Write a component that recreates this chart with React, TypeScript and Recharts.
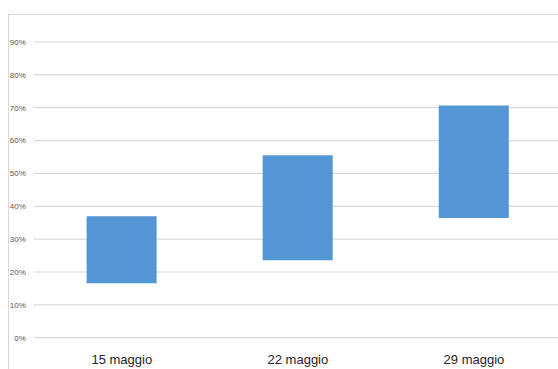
import React from "react";
import { BarChart, Bar, XAxis, YAxis, CartesianGrid } from "recharts";

const categories = ["15 maggio", "22 maggio", "29 maggio"];
const lowValues = [0.166, 0.236, 0.364];
const highValues = [0.37, 0.555, 0.707];
const yTicks = [0, 0.1, 0.2, 0.3, 0.4, 0.5, 0.6, 0.7, 0.8, 0.9];

const data = categories.map((name, i) => ({
  name,
  range: [lowValues[i], highValues[i]],
}));

const font = '"Liberation Sans", Arial, sans-serif';

export default function App() {
  return (
    <div style={{ position: "absolute", left: 8, top: 8, width: 550, height: 361, overflow: "hidden" }}>
      <style>{`html, body { overflow: hidden; }`}</style>
      <div
        style={{
          position: "absolute",
          left: 0,
          top: 6,
          width: 570,
          height: 400,
          border: "1px solid #d9d9d9",
          boxSizing: "border-box",
        }}
      >
        <div style={{ position: "absolute", left: 0, top: 0 }}>
          <BarChart
            width={553}
            height={370}
            data={data}
            margin={{ top: 27, right: 0, bottom: 17.3, left: 0 }}
            barCategoryGap="30%"
          >
            <CartesianGrid vertical={false} stroke="#d9d9d9" strokeWidth={1.2} />
            <XAxis
              dataKey="name"
              axisLine={false}
              tickLine={false}
              tickSize={0}
              tickMargin={17}
              height={30}
              interval={0}
              tick={{ fontSize: 13, fill: "#262626", fontFamily: font }}
            />
            <YAxis
              domain={[0, 0.9]}
              ticks={yTicks}
              axisLine={false}
              tickLine={false}
              tickSize={0}
              tickMargin={8}
              width={24.8}
              interval={0}
              tickFormatter={(v: number) => `${Math.round(v * 100)}%`}
              tick={{ fontSize: 8, fill: "#595959", fontFamily: font }}
            />
            <Bar dataKey="range" fill="#5296d3" isAnimationActive={false} />
          </BarChart>
        </div>
      </div>
    </div>
  );
}
